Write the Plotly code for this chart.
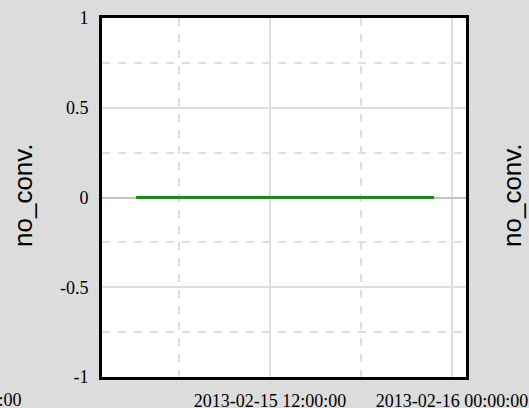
import plotly.graph_objects as go

# Data
times = [
    "2013-02-15 03:10:00", "2013-02-15 06:00:00", "2013-02-15 09:00:00",
    "2013-02-15 12:00:00", "2013-02-15 15:00:00", "2013-02-15 18:00:00",
    "2013-02-15 21:00:00", "2013-02-15 22:49:00",
]
no_conv = [0, 0, 0, 0, 0, 0, 0, 0]
x_range = ["2013-02-15 00:55:00", "2013-02-16 00:55:00"]
y_range = [-1, 1]
y_tickvals = [-1, -0.5, 0, 0.5, 1]
y_ticktext = ["-1", "-0.5", "0", "0.5", "1"]
y_title = "no_conv."
neighbour_tick = "2013-02-16 00:00:00"

PAPER = "#dcdcdc"
W, H = 529, 408
L, R, T, B = 102, 466, 18, 377

def px_x(p):
    return (p - L) / (R - L)

def px_y(p):
    return (B - p) / (B - T)

fig = go.Figure()
fig.add_trace(go.Scatter(
    x=times, y=no_conv, mode="lines",
    line=dict(color="#178a17", width=3),
    showlegend=False, hoverinfo="skip",
))

tick_font = dict(family="Liberation Serif", size=18, color="black")
title_font = dict(family="Liberation Sans", size=26, color="black")

fig.update_layout(
    width=W, height=H,
    margin=dict(l=L, r=W - R, t=T, b=H - B, pad=0, autoexpand=False),
    paper_bgcolor=PAPER,
    plot_bgcolor="white",
    showlegend=False,
    xaxis=dict(
        type="date", range=x_range, automargin=False,
        dtick=12 * 3600 * 1000, tick0="2013-02-15 00:00:00",
        tickformat="%Y-%m-%d %H:%M:%S",
        tickfont=tick_font, ticks="", ticklabelstandoff=5,
        showgrid=True, gridcolor="#dedede", gridwidth=2,
        minor=dict(dtick=6 * 3600 * 1000, tick0="2013-02-15 00:00:00",
                   showgrid=True, gridcolor="#dedede", gridwidth=2,
                   griddash="8px,8px"),
        showline=True, linecolor="black", linewidth=3, mirror=True,
        zeroline=False, fixedrange=True,
    ),
    yaxis=dict(
        range=y_range, tickmode="array", automargin=False,
        tickvals=y_tickvals, ticktext=y_ticktext,
        tickfont=tick_font, ticks="", ticklabelstandoff=7,
        showgrid=True, gridcolor="#dedede", gridwidth=2,
        minor=dict(dtick=0.25, tick0=0, showgrid=True, gridcolor="#dedede",
                   gridwidth=2, griddash="8px,8px"),
        showline=True, linecolor="black", linewidth=3, mirror=True,
        zeroline=True, zerolinecolor="#b7cbb0", zerolinewidth=2,
        fixedrange=True,
    ),
    annotations=[
        dict(text=y_title, xref="paper", yref="paper",
             x=px_x(23), y=px_y(195), textangle=-90,
             xanchor="center", yanchor="middle", showarrow=False,
             font=title_font),
        dict(text=y_title, xref="paper", yref="paper",
             x=px_x(512), y=px_y(195), textangle=-90,
             xanchor="center", yanchor="middle", showarrow=False,
             font=title_font),
        dict(text=neighbour_tick, xref="paper", yref="paper",
             x=px_x(24), y=px_y(400), xanchor="right", yanchor="middle",
             showarrow=False, font=tick_font),
    ],
)

page_js = (
    "document.body.style.margin='0';"
    "document.body.style.overflow='hidden';"
    "document.body.style.background='" + PAPER + "';"
)
fig.write_html("out.html", post_script=page_js,
               config={"displayModeBar": False, "staticPlot": True})
